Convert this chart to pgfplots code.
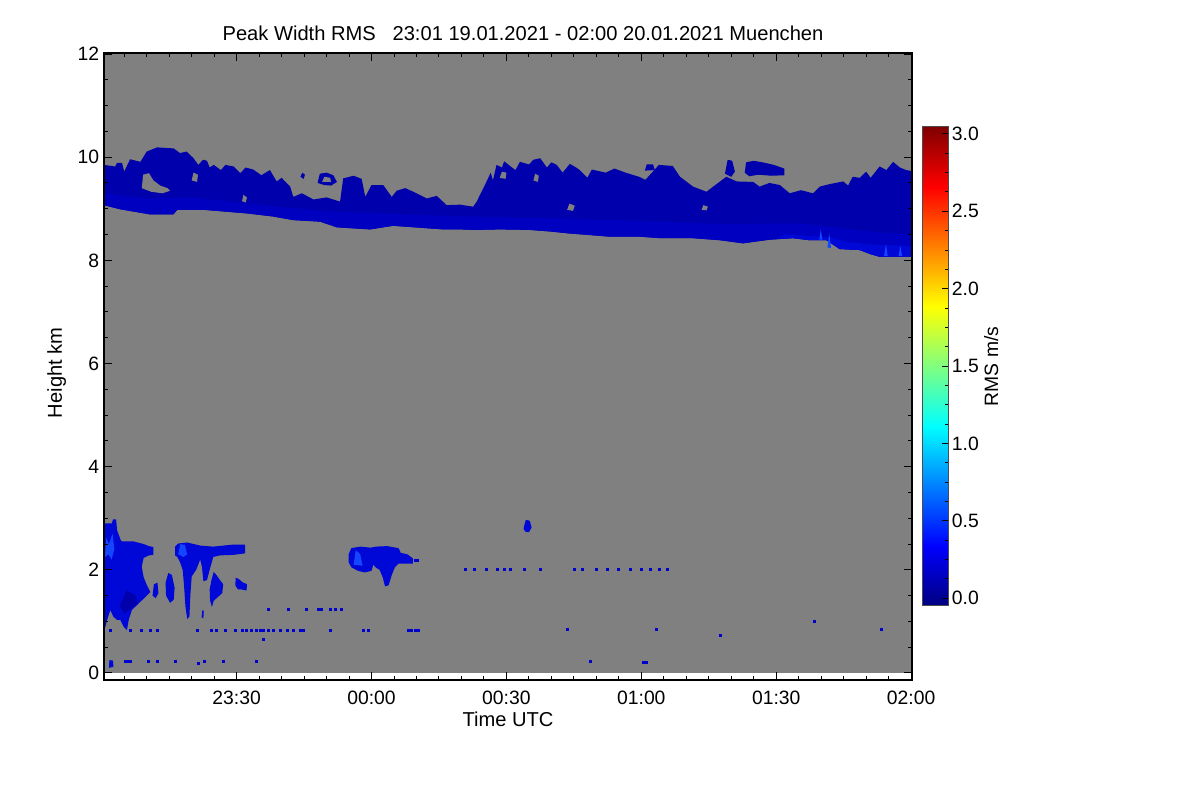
\documentclass[border=0pt]{standalone}
\usepackage{pgfplots}
\pgfplotsset{compat=1.18}
\usepackage{fontspec}
\setmainfont{Liberation Sans}
\definecolor{bggray}{RGB}{128,128,128}
\definecolor{cloudA}{RGB}{0,0,172}
\definecolor{cloudM}{RGB}{0,0,192}
\definecolor{cloudB}{RGB}{0,8,215}
\definecolor{cloudC}{RGB}{20,70,255}
\definecolor{dotblue}{RGB}{0,0,205}
\begin{document}
\fontsize{9.7}{11.6}\selectfont
\begin{tikzpicture}
\path[use as bounding box] (0,0) rectangle (600bp,400bp);
\begin{axis}[
  at={(52bp,60bp)}, anchor=south west,
  scale only axis, width=404bp, height=313.5bp,
  xmin=0.5, xmax=180.2, ymin=-0.136, ymax=12.02,
  axis on top,
  xtick={30,60,90,120,150,180},
  xticklabels={23:30,00:00,00:30,01:00,01:30,02:00},
  minor xtick={5,10,...,175},
  ytick={0,2,4,6,8,10,12},
  yticklabels={0,2,4,6,8,10,12},
  minor ytick={0.5,1,...,11.5},
  xtick pos=both, ytick pos=both,
  tick align=inside,
  major tick length=4bp, minor tick length=2.2bp,
  tick style={black, line width=0.5bp},
  axis line style={black, line width=0.7bp},
  xticklabel style={anchor=base, yshift=-12bp},
  yticklabel style={anchor=east, xshift=1bp},
  xlabel={Time UTC}, ylabel={Height km},
  label style={font=\fontsize{10.1}{12}\selectfont},
  xlabel style={at={(0.5,0)}, anchor=base, yshift=-23bp},
  ylabel style={at={(0,0.49)}, anchor=base, yshift=21bp},
  title={Peak Width RMS\ \ \ 23:01 19.01.2021 - 02:00 20.01.2021 Muenchen},
  title style={at={(0.5186,1)}, anchor=base, yshift=0.5bp, font=\fontsize{10.1}{12}\selectfont},
  colormap/jet,
  point meta min=-0.05, point meta max=3.045,
  colorbar right,
  colorbar style={
    at={(1.0133,0.882)}, anchor=north west,
    scale only axis, width=12.65bp, height=239.5bp,
    ytick={0,0.5,1,1.5,2,2.5,3},
    yticklabels={0.0,0.5,1.0,1.5,2.0,2.5,3.0},
    minor y tick num=3,
    ytick pos=right, yticklabel pos=right,
    tick align=inside,
    major tick length=3bp, minor tick length=1.5bp,
    yticklabel style={anchor=west, xshift=-1.5bp},
    axis line style={black!70, line width=0.5bp},
    ylabel={RMS m/s},
    ylabel style={at={(1,0.5)}, anchor=base, yshift=-25bp},
  },
]
% gray no-data background
\addplot[fill=bggray, draw=none] coordinates {(0.5,0) (180.2,0) (180.2,12.1) (0.5,12.1)} -- cycle;

% ===== upper cloud layer =====
\addplot[fill=cloudA, draw=none] coordinates {
(0.5,9.85) (3.0,9.82) (3.4,9.89) (4.5,9.89) (5.0,9.72) (6.3,9.96) (8.6,9.91) (10.0,10.11) (12.3,10.19) (16.0,10.17) (17.4,10.08) (18.9,10.11) (20.4,9.98) (21.5,9.85) (22.5,9.95) (23.4,9.93) (24.0,9.80) (24.9,9.85) (26.5,9.75) (27.5,9.85) (29.3,9.82) (30.8,9.69) (32.0,9.80) (33.7,9.76) (35.5,9.65) (37.4,9.75) (38.9,9.53) (40.0,9.60) (41.9,9.43) (42.6,9.23) (44.5,9.30) (47.1,9.18) (50.0,9.22) (53.0,9.14) (53.7,9.59) (56.0,9.64) (57.8,9.58) (58.6,9.23) (60.0,9.46) (62.6,9.46) (64.5,9.23) (65.6,9.35) (67.5,9.40) (69.3,9.33) (72.3,9.20) (74.5,9.25) (76.7,9.07) (79.7,9.08) (82.6,9.04) (83.4,9.14) (85.6,9.53) (86.5,9.70) (87.0,9.55) (87.8,9.85) (89.0,9.80) (89.5,9.92) (90.8,9.83) (92.0,9.75) (93.0,9.91) (95.0,9.86) (96.0,9.95) (97.5,9.98) (99.0,9.80) (100.0,9.90) (101.2,9.85) (102.5,9.70) (104.1,9.87) (105.5,9.80) (106.3,9.75) (108.0,9.60) (109.0,9.76) (110.6,9.73) (112.1,9.70) (114.0,9.78) (116.5,9.70) (119.5,9.62) (120.9,9.56) (123.9,9.85) (127.0,9.83) (128.6,9.62) (131.5,9.43) (134.5,9.33) (136.0,9.43) (138.9,9.62) (141.2,9.53) (144.9,9.52) (146.3,9.43) (148.5,9.50) (150.8,9.46) (153.0,9.30) (155.5,9.36) (158.2,9.30) (159.7,9.43) (162.0,9.48) (164.9,9.53) (166.0,9.45) (167.0,9.62) (168.6,9.60) (170.0,9.72) (171.0,9.60) (173.0,9.82) (174.5,9.75) (176.0,9.91) (177.5,9.80) (178.9,9.75) (180.2,9.73)
(180.2,8.07) (173.0,8.07) (171.0,8.12) (168.6,8.20) (164.1,8.22) (161.2,8.39) (157.5,8.39) (153.7,8.43) (148.5,8.40) (142.6,8.33) (137.5,8.39) (131.4,8.43) (124.1,8.43) (119.5,8.46) (112.8,8.46) (108.6,8.49) (104.1,8.52) (99.7,8.56) (95.2,8.59) (88.6,8.60) (83.0,8.59) (79.7,8.60) (75.9,8.60) (64.8,8.67) (59.7,8.60) (52.3,8.64) (48.6,8.75) (42.6,8.78) (38.1,8.85) (32.3,8.91) (22.6,8.98) (16.8,8.98) (15.9,8.89) (10.8,8.89) (4.1,8.99) (0.5,9.07)
} -- cycle;
% slightly lighter lower part
\addplot[fill=cloudM, draw=none] coordinates {
(0.5,9.30) (10,9.2) (20,9.22) (35,9.08) (50,8.95) (65,8.9) (80,8.85) (100,8.82) (120,8.76) (140,8.70) (155,8.72) (165,8.62) (172,8.55) (180.2,8.50)
(180.2,8.07) (173.0,8.07) (171.0,8.12) (168.6,8.20) (164.1,8.22) (161.2,8.39) (157.5,8.39) (153.7,8.43) (148.5,8.40) (142.6,8.33) (137.5,8.39) (131.4,8.43) (124.1,8.43) (119.5,8.46) (112.8,8.46) (108.6,8.49) (104.1,8.52) (99.7,8.56) (95.2,8.59) (88.6,8.60) (83.0,8.59) (79.7,8.60) (75.9,8.60) (64.8,8.67) (59.7,8.60) (52.3,8.64) (48.6,8.75) (42.6,8.78) (38.1,8.85) (32.3,8.91) (22.6,8.98) (16.8,8.98) (15.9,8.89) (10.8,8.89) (4.1,8.99) (0.5,9.07)
} -- cycle;
% brighter streaks near the base
\addplot[fill=cloudB, draw=none] coordinates {(150,8.42) (152,8.50) (158,8.47) (162,8.45) (166,8.35) (172,8.30) (180.2,8.28) (180.2,8.07) (173.0,8.07) (171.0,8.12) (168.6,8.20) (164.1,8.22) (161.2,8.39) (157.5,8.39) (153.7,8.43)} -- cycle;
\addplot[fill=cloudC, draw=none] coordinates {(159.6,8.40) (159.9,8.60) (160.3,8.40)} -- cycle;
\addplot[fill=cloudC, draw=none] coordinates {(161.4,8.25) (161.8,8.52) (162.2,8.24)} -- cycle;
\addplot[fill=cloudC, draw=none] coordinates {(174.0,8.08) (174.4,8.32) (174.8,8.08)} -- cycle;
\addplot[fill=cloudC, draw=none] coordinates {(177.2,8.08) (177.6,8.28) (178.0,8.08)} -- cycle;
% detached blobs above the layer
\addplot[fill=cloudA, draw=none] coordinates {(143.0,9.70) (143.3,9.90) (145.0,9.93) (147.0,9.90) (149.5,9.85) (151.8,9.78) (151.8,9.65) (149.0,9.64) (146.0,9.66) (144.0,9.63)} -- cycle;
\addplot[fill=cloudA, draw=none] coordinates {(138.6,9.68) (139.2,9.95) (140.2,9.93) (140.8,9.72) (140.0,9.62)} -- cycle;
\addplot[fill=cloudA, draw=none] coordinates {(120.8,9.74) (121.2,9.86) (122.6,9.86) (123.0,9.75)} -- cycle;
\addplot[fill=cloudA, draw=none] coordinates {(48.0,9.50) (48.5,9.68) (50.0,9.70) (51.5,9.65) (52.3,9.52) (51.0,9.45) (49.5,9.46)} -- cycle;
\addplot[fill=cloudA, draw=none] coordinates {(44.2,9.62) (44.6,9.70) (45.2,9.66) (44.9,9.58)} -- cycle;
% gaps inside the layer
\addplot[fill=bggray, draw=none] coordinates {(8.9,9.40) (9.2,9.66) (10.5,9.69) (11.5,9.55) (13.0,9.45) (14.6,9.40) (15.2,9.35) (13.5,9.30) (11.0,9.33)} -- cycle;
\addplot[fill=bggray, draw=none] coordinates {(31.2,9.15) (31.5,9.27) (32.3,9.22) (32.0,9.12)} -- cycle;
\addplot[fill=bggray, draw=none] coordinates {(103.5,8.98) (104.0,9.10) (105.2,9.06) (104.8,8.96)} -- cycle;
\addplot[fill=bggray, draw=none] coordinates {(133.4,8.98) (133.8,9.07) (134.8,9.04) (134.5,8.97)} -- cycle;
\addplot[fill=bggray, draw=none] coordinates {(49.0,9.52) (49.5,9.62) (50.8,9.60) (51.0,9.52)} -- cycle;
\addplot[fill=bggray, draw=none] coordinates {(88.5,9.60) (89.0,9.72) (90.0,9.70) (89.8,9.58)} -- cycle;
\addplot[fill=bggray, draw=none] coordinates {(96.0,9.55) (96.4,9.68) (97.2,9.64) (97.0,9.52)} -- cycle;
\addplot[fill=bggray, draw=none] coordinates {(20.0,9.55) (20.4,9.70) (21.4,9.66) (21.2,9.52)} -- cycle;

% ===== low clouds =====
\addplot[fill=cloudB, draw=none] coordinates {
(0.5,0.88) (0.5,2.90) (2.27,2.90) (2.5,2.98) (3.2,2.98) (3.4,2.77) (4.2,2.58) (4.5,2.55) (7.1,2.55) (9.3,2.50) (10.5,2.46) (11.5,2.44) (11.5,2.29) (10.5,2.28) (9.3,2.23) (8.9,2.06) (9.3,1.86) (10.0,1.71) (10.8,1.57) (10.0,1.50) (8.6,1.38) (7.4,1.28) (6.7,1.22) (6.0,1.03) (5.6,0.83) (4.85,0.90) (4.1,1.03) (3.4,1.03) (2.6,1.09) (1.9,1.22) (1.2,1.03) (0.8,0.89)
} -- cycle;
\addplot[fill=cloudC, draw=none] coordinates {(0.7,2.25) (1.0,2.62) (1.6,2.50) (2.4,2.70) (2.8,2.40) (2.2,2.20) (1.5,2.30)} -- cycle;
\addplot[fill=cloudA, draw=none] coordinates {(4.0,1.30) (5.5,1.60) (7.5,1.50) (8.0,1.35) (6.5,1.25) (5.0,1.15)} -- cycle;
\addplot[fill=cloudB, draw=none] coordinates {(11.3,1.5) (11.6,1.72) (12.4,1.75) (12.6,1.55) (12.0,1.45)} -- cycle;
\addplot[fill=cloudB, draw=none] coordinates {(14.8,1.94) (15.6,1.90) (16.2,1.65) (16.0,1.42) (15.2,1.36) (14.3,1.50) (14.2,1.75)} -- cycle;
\addplot[fill=cloudB, draw=none] coordinates {
(16.3,2.45) (17.0,2.51) (19.0,2.53) (21.9,2.47) (24.8,2.45) (29.3,2.49) (31.9,2.49) (31.9,2.32) (29.3,2.29) (26.3,2.28) (24.8,2.25) (24.0,2.0) (23.4,1.80) (22.6,1.78) (22.3,2.05) (21.9,2.20) (21.0,2.0) (20.0,1.87) (19.7,1.5) (19.5,1.09) (19.0,1.05) (18.6,1.30) (18.3,1.7) (18.0,2.0) (17.4,2.15) (16.8,2.25) (16.3,2.28)
} -- cycle;
\addplot[fill=cloudC, draw=none] coordinates {(17.0,2.30) (17.5,2.50) (18.5,2.48) (19.0,2.30) (18.2,2.25)} -- cycle;
\addplot[fill=cloudB, draw=none] coordinates {(24.9,1.96) (25.5,1.9) (26.3,1.80) (27.0,1.72) (26.8,1.55) (25.8,1.47) (24.9,1.40) (24.5,1.28) (24.1,1.40) (24.0,1.62) (24.4,1.80)} -- cycle;
\addplot[fill=cloudB, draw=none] coordinates {(29.8,1.85) (30.5,1.82) (31.3,1.76) (32.3,1.72) (32.2,1.60) (31.0,1.62) (30.3,1.62) (29.7,1.7)} -- cycle;
\addplot[fill=cloudB, draw=none] coordinates {(22.2,1.08) (22.4,1.22) (22.7,1.20) (22.6,1.06)} -- cycle;
\addplot[fill=cloudB, draw=none] coordinates {
(54.9,2.30) (55.5,2.42) (57.5,2.45) (59.8,2.43) (61.0,2.45) (63.5,2.46) (66.0,2.42) (66.5,2.33) (68.0,2.30) (69.2,2.22) (69.2,2.12) (67.5,2.12) (66.0,2.12) (65.2,2.05) (64.5,1.90) (63.8,1.70) (63.0,1.68) (62.5,1.85) (61.8,2.00) (61.0,2.04) (60.4,2.10) (60.0,1.98) (58.5,1.95) (57.0,1.98) (55.5,2.05) (54.9,2.15)
} -- cycle;
\addplot[fill=cloudC, draw=none] coordinates {(56.0,2.10) (56.5,2.38) (57.5,2.30) (58.0,2.08)} -- cycle;
\addplot[fill=cloudB, draw=none] coordinates {(93.8,2.80) (94.3,2.97) (95.2,2.95) (95.6,2.82) (95.0,2.73) (94.2,2.74)} -- cycle;
\addplot[fill=cloudB, draw=none] coordinates {(1.6,0.10) (1.7,0.25) (2.5,0.24) (2.6,0.12)} -- cycle;

% ===== isolated returns =====
\addplot[only marks, mark=square*, mark size=0.5bp, mark options={line width=0pt}, color=dotblue] coordinates {
(1.9,0.83) (6.3,0.83) (8.9,0.83) (10.8,0.83) (12.3,0.83) (21.2,0.83) (24.5,0.83) (25.6,0.83) (27.5,0.83) (29.7,0.83) (31.2,0.83) (32.3,0.83) (33.4,0.83) (34.5,0.83) (35.2,0.83) (36.0,0.83) (37.0,0.83) (38.2,0.83) (39.7,0.83) (41.2,0.83) (42.6,0.83) (44.1,0.83) (44.9,0.83) (50.8,0.83) (58.2,0.83) (59.3,0.83) (68.2,0.83) (68.9,0.83) (69.7,0.83) (70.4,0.83) (103.5,0.85) (123.4,0.85) (173.4,0.85) (137.7,0.72) (158.6,0.99)
(37.1,1.24) (41.5,1.24) (45.6,1.24) (48.2,1.24) (48.9,1.24) (50.8,1.24) (51.9,1.24) (53.4,1.24)
(5.2,0.22) (5.8,0.22) (6.3,0.22) (10.4,0.22) (12.3,0.22) (16.3,0.22) (21.5,0.18) (22.8,0.22) (27.1,0.22) (34.5,0.22) (108.6,0.22) (120.5,0.20) (121.2,0.20)
(80.8,2.0) (83.0,2.0) (85.5,2.0) (88.0,2.0) (89.5,2.0) (91.0,2.0) (94.0,2.0) (97.5,2.0) (105.2,2.0) (107.0,2.0) (110.0,2.0) (112.5,2.0) (115.0,2.0) (117.5,2.0) (120.0,2.0) (122.0,2.0) (124.0,2.0) (125.9,2.0)
(35.9,0.64) (69.8,2.18) (70.3,2.18)
};
\end{axis}
\end{tikzpicture}
\end{document}
